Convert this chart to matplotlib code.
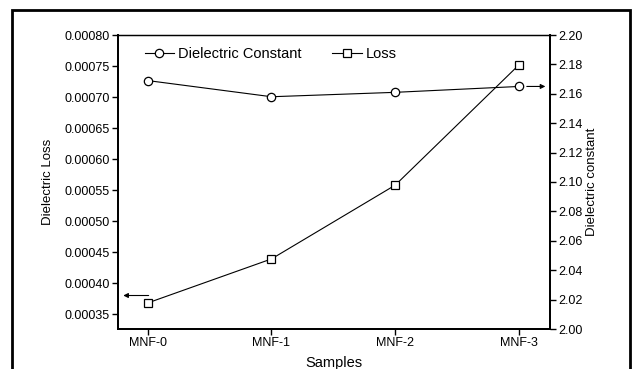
import matplotlib
matplotlib.use("Agg")
import matplotlib.pyplot as plt
from matplotlib.patches import Rectangle
import numpy as np

samples = ["MNF-0", "MNF-1", "MNF-2", "MNF-3"]
loss = [0.000368, 0.000439, 0.000558, 0.000752]
dielectric_constant = [2.169, 2.158, 2.161, 2.165]
left_ticks = [0.00035, 0.00040, 0.00045, 0.00050, 0.00055, 0.00060, 0.00065, 0.00070, 0.00075, 0.00080]
right_ticks = [2.00, 2.02, 2.04, 2.06, 2.08, 2.10, 2.12, 2.14, 2.16, 2.18, 2.20]

plt.rcParams['font.family'] = ['Liberation Sans', 'DejaVu Sans']

W, H = 634, 369
fig = plt.figure(figsize=(W / 100, H / 100), dpi=100)
ax = fig.add_axes([118 / W, 1 - 329 / H, (550 - 118) / W, (329 - 35) / H])
ax2 = ax.twinx()

x = np.arange(len(samples))
l2, = ax2.plot(x, dielectric_constant, '-', color='black', lw=0.8, marker='o', ms=6,
               mfc='white', mec='black', mew=0.9, label='Dielectric Constant')
l1, = ax.plot(x, loss, '-', color='black', lw=0.8, marker='s', ms=5.5,
              mfc='white', mec='black', mew=0.9, label='Loss')

ax.set_xlim(-0.24, 3.25)
ax.set_ylim(0.000326, 0.0008)
ax2.set_ylim(2.00, 2.20)

ax.set_xticks(x)
ax.set_xticklabels(samples, fontsize=9)
ax.set_yticks(left_ticks)
ax.set_yticklabels(['%.5f' % v for v in left_ticks], fontsize=9)
ax2.set_yticks(right_ticks)
ax2.set_yticklabels(['%.2f' % v for v in right_ticks], fontsize=9)

for a in (ax, ax2):
    a.tick_params(direction='out', length=4, width=1, color='black', pad=2)
    for s in a.spines.values():
        s.set_linewidth(1.3)
    a.spines['top'].set_linewidth(0.9)

ax.set_xlabel('Samples', fontsize=10.5)
ax.xaxis.set_label_coords(0.5, -0.093)
ax.set_ylabel('Dielectric Loss', fontsize=9.5)
ax.yaxis.set_label_coords(-0.148, 0.5)
ax2.set_ylabel('Dielectric constant', fontsize=9.5)
ax2.yaxis.set_label_coords(1.083, 0.5)

# arrows pointing to the respective axes
ax.annotate('', xy=(-0.22, 0.00038), xytext=(0.03, 0.00038),
            arrowprops=dict(arrowstyle='-|>', color='black', lw=0.8, mutation_scale=7))
ax2.annotate('', xy=(3.235, 2.165), xytext=(3.04, 2.165),
             arrowprops=dict(arrowstyle='-|>', color='black', lw=0.8, mutation_scale=7))

leg = ax2.legend(handles=[l2, l1], loc='upper left', bbox_to_anchor=(0.035, 1.0), ncol=2,
                 frameon=False, fontsize=10.5, handlelength=2.0, handletextpad=0.3,
                 columnspacing=2.1, borderaxespad=0.4)

# outer frame
fig.add_artist(Rectangle((12 / W, -0.1), (630 - 12) / W, 1.1 - 10 / H,
                         transform=fig.transFigure, fill=False, lw=2, ec='black'))

fig.savefig('out.png', dpi=100)
